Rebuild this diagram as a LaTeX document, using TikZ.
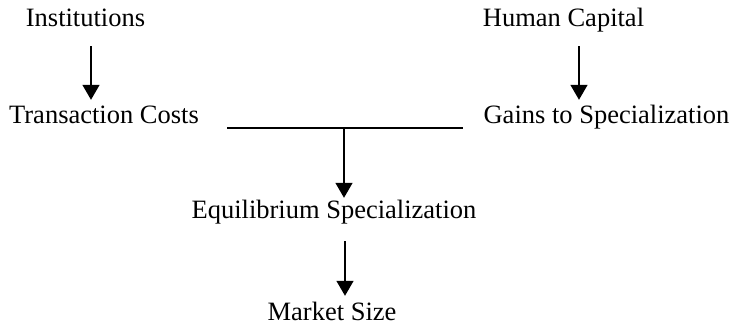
\documentclass[tikz,border=0pt]{standalone}
\usepackage{fontspec}
\setmainfont{Liberation Serif}
\usepackage{tikz}
\usetikzlibrary{arrows.meta}

\begin{document}
\begin{tikzpicture}[
  x = 1pt, y = -1pt,
  every node/.style = {inner sep = 0pt, anchor = base,
                       font = \fontsize{26.5}{30}\selectfont,
                       text height = 0.7em, text depth = 0.22em},
  arr/.style = {line width = 1.5pt, -{Triangle[length = 15pt, width = 17pt]}},
  link/.style = {line width = 1.5pt}
  ]
  \useasboundingbox (0,0) rectangle (736,329);
  % the five factors
  \node (inst) at (85.5,27)  {Institutions};
  \node (hcap) at (563.5,27) {Human Capital};
  \node (tcost) at (104,123) {Transaction Costs};
  \node (gains) at (606.5,123) {Gains to Specialization};
  \node (equil) at (334,218) {Equilibrium Specialization};
  \node (msize) at (332,320) {Market Size};
  % connectors
  \draw[arr, shorten <= 17pt, shorten >= 16pt]
    ([xshift=5.5pt]inst.south) -- ([xshift=5.5pt]inst.south |- tcost.north);
  \draw[arr, shorten <= 17pt, shorten >= 16pt]
    ([xshift=15.5pt]hcap.south) -- ([xshift=15.5pt]hcap.south |- gains.north);
  \draw[link] ([xshift=28pt,yshift=-5pt]tcost.base east)
    -- ([xshift=-20pt,yshift=-5pt]gains.base west);
  \coordinate (join) at (344,128);
  \draw[arr, shorten >= 13pt] (join) -- (join |- equil.north);
  \draw[arr, shorten <= 21pt, shorten >= 17pt]
    ([xshift=11pt]equil.south) -- ([xshift=11pt]equil.south |- msize.north);
\end{tikzpicture}
\end{document}
